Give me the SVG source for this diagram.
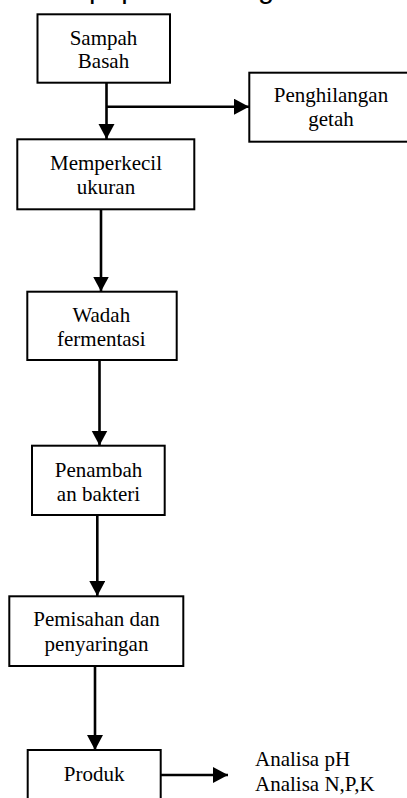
<svg xmlns="http://www.w3.org/2000/svg" width="407" height="798" viewBox="0 0 407 798">
<defs>
<style>
.box{fill:#fff;stroke:#000;stroke-width:2}
.lbl{font-family:"Liberation Serif","Times New Roman",serif;font-size:21px;fill:#000;text-anchor:middle}
.side{font-family:"Liberation Serif","Times New Roman",serif;font-size:21px;fill:#000}
.cap{font-family:"Liberation Sans",Arial,sans-serif;font-size:29px;fill:#000}
.con{fill:none;stroke:#000;stroke-width:2.6}
</style>
<marker id="ah" markerUnits="userSpaceOnUse" markerWidth="16" markerHeight="17" refX="15" refY="8" orient="auto">
<path d="M0,0 L15,8 L0,16 Z" fill="#000"/>
</marker>
</defs>
<rect width="407" height="798" fill="#fff"/>
<text class="cap" x="89" y="-2">pupuk</text>
<text class="cap" x="209.6" y="-2">dengan</text>
<g id="connectors">
<path class="con" d="M106.5,82.7 V139" marker-end="url(#ah)"/>
<path class="con" d="M106.5,106.7 H249" marker-end="url(#ah)"/>
<path class="con" d="M101,209.3 V291.5" marker-end="url(#ah)"/>
<path class="con" d="M99.5,360 V445.5" marker-end="url(#ah)"/>
<path class="con" d="M97.3,515 V596" marker-end="url(#ah)"/>
<path class="con" d="M95,666 V750" marker-end="url(#ah)"/>
<path class="con" d="M160.7,775 H228" marker-end="url(#ah)"/>
</g>
<g id="sampah">
<rect class="box" x="37.5" y="14.3" width="132.5" height="68.4"/>
<text class="lbl" x="103.5" y="45">Sampah</text>
<text class="lbl" x="103.5" y="68.3">Basah</text>
</g>
<g id="penghilangan">
<rect class="box" x="249.3" y="72.7" width="165" height="69"/>
<text class="lbl" x="331" y="101.7">Penghilangan</text>
<text class="lbl" x="331" y="126">getah</text>
</g>
<g id="memperkecil">
<rect class="box" x="17.3" y="139.3" width="177" height="70"/>
<text class="lbl" x="106" y="170">Memperkecil</text>
<text class="lbl" x="106" y="194">ukuran</text>
</g>
<g id="wadah">
<rect class="box" x="27.3" y="291.7" width="149.4" height="68.3"/>
<text class="lbl" x="101.3" y="321.7">Wadah</text>
<text class="lbl" x="101.3" y="346">fermentasi</text>
</g>
<g id="penambah">
<rect class="box" x="32" y="445.7" width="132.7" height="69.3"/>
<text class="lbl" x="98.5" y="476.7">Penambah</text>
<text class="lbl" x="98.5" y="500.7">an bakteri</text>
</g>
<g id="pemisahan">
<rect class="box" x="9.3" y="596.3" width="174" height="69.7"/>
<text class="lbl" x="96.5" y="626">Pemisahan dan</text>
<text class="lbl" x="96.5" y="650.7">penyaringan</text>
</g>
<g id="produk">
<rect class="box" x="27.7" y="750" width="133" height="60"/>
<text class="lbl" x="94.2" y="780.7">Produk</text>
</g>
<g id="analisa">
<text class="side" x="255" y="766">Analisa pH</text>
<text class="side" x="255" y="790.7">Analisa N,P,K</text>
</g>
</svg>
